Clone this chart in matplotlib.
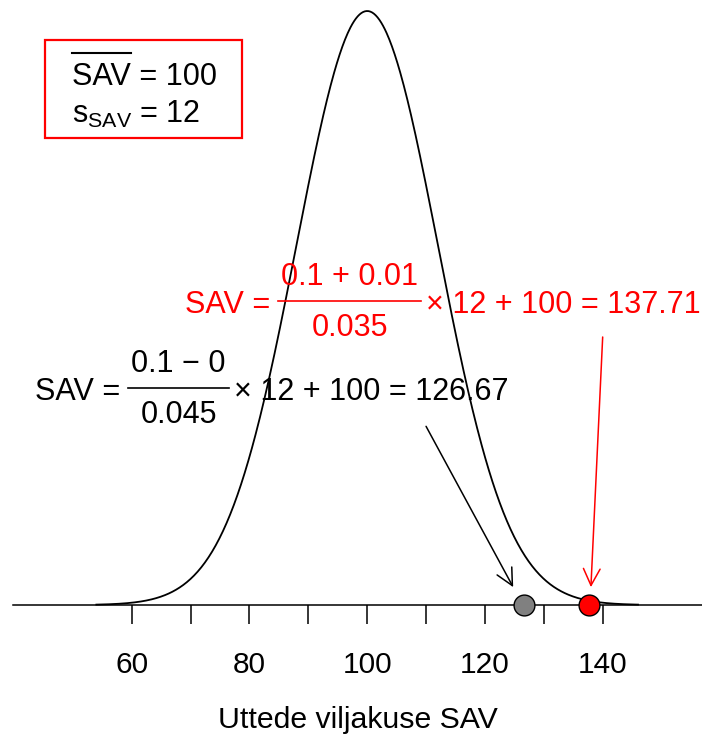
import matplotlib
matplotlib.use("Agg")
import matplotlib.pyplot as plt
from matplotlib.patches import Rectangle
from matplotlib.lines import Line2D
import numpy as np

# Normal density of SAV
sav_mean = 100
sav_sd = 12
curve_from, curve_to = 54, 146

# two conversions: numerator a (+/-) b over denominator
num_a = [0.1, 0.1]
num_b = [0.0, 0.01]
num_sign = ["\u2212", "+"]
denom = [0.045, 0.035]
point_colors = ["#808080", "red"]
text_colors = ["black", "red"]

# arrow tails and heads pointing down to each score
arrow_x0 = [110, 140]
arrow_y0 = [0.010, 0.015]
arrow_x1 = [124.8, 138]
arrow_y1 = [0.001, 0.001]

# formula anchor (left edge x, baseline y)
label_x = [43.6, 69.05]
label_y = [0.01147, 0.01634]

major_ticks = [60, 70, 80, 90, 100, 110, 120, 130, 140]
tick_labels = ["60", "", "80", "", "100", "", "120", "", "140"]

plt.rcParams["font.family"] = ["Liberation Sans", "DejaVu Sans"]
plt.rcParams["mathtext.fontset"] = "custom"
plt.rcParams["mathtext.rm"] = "Liberation Sans"
plt.rcParams["mathtext.it"] = "Liberation Sans"
plt.rcParams["mathtext.bf"] = "Liberation Sans:bold"

FS = 22
W, H = 702, 738

fig = plt.figure(figsize=(7.02, 7.38), dpi=100)
ax = fig.add_axes([0, 0, 1, 1])
ax.set_xlim(37.63, 156.87)
ax.set_ylim(-0.007444, 0.033862)
renderer = fig.canvas.get_renderer()

xs = np.linspace(curve_from, curve_to, 600)
dens = np.exp(-0.5 * ((xs - sav_mean) / sav_sd) ** 2) / (sav_sd * np.sqrt(2 * np.pi))
ax.plot(xs, dens, color="black", lw=1.3, zorder=3)

# axis drawn through zero
for side in ["top", "right", "left"]:
    ax.spines[side].set_visible(False)
ax.spines["bottom"].set_position(("data", 0))
ax.spines["bottom"].set_bounds(39.8, 156.87)
ax.spines["bottom"].set_linewidth(1.1)
ax.set_xticks(major_ticks)
ax.set_xticklabels(tick_labels)
ax.set_yticks([])
ax.tick_params(axis="x", direction="out", length=13.7, width=1.1, pad=19.5, labelsize=21.5)
ax.text(98.35, -0.0069, "Uttede viljakuse SAV", ha="center", va="baseline", fontsize=21.8)


def to_data(px, py):
    return ax.transData.inverted().transform((px, py))


def put(px, py, s, ha, color):
    x, y = to_data(px, py)
    return ax.text(x, y, s, ha=ha, va="baseline", color=color, fontsize=FS, zorder=4)


def width(t):
    return t.get_window_extent(renderer).width


def formula(x0, y0, left, num, den, right, color):
    px, py = ax.transData.transform((x0, y0))
    t = put(px, py, left, "left", color)
    bar_left = px + width(t) + 8
    tn = put(0, 0, num, "center", color)
    td = put(0, 0, den, "center", color)
    bar_w = max(width(tn), width(td)) + 6
    cx = bar_left + bar_w / 2
    bar_y = py + 12
    tn.set_position(to_data(cx, bar_y + 16))
    td.set_position(to_data(cx, bar_y - 35))
    (bx0, by), (bx1, _) = to_data(bar_left, bar_y), to_data(bar_left + bar_w, bar_y)
    ax.add_line(Line2D([bx0, bx1], [by, by], color=color, lw=1.2, zorder=4))
    put(bar_left + bar_w + 5, py, right, "left", color)


for i in range(2):
    score = (num_a[i] + num_b[i]) / denom[i] * sav_sd + sav_mean
    num = f"{num_a[i]:g} {num_sign[i]} {num_b[i]:g}"
    right = f"\u00d7 {sav_sd} + {sav_mean} = {score:.2f}"
    formula(label_x[i], label_y[i], "SAV =", num, f"{denom[i]:g}", right, text_colors[i])
    ax.annotate("", xy=(arrow_x1[i], arrow_y1[i]), xytext=(arrow_x0[i], arrow_y0[i]),
                arrowprops=dict(arrowstyle="->, head_length=0.6, head_width=0.3",
                                color=text_colors[i], lw=1.1, mutation_scale=20,
                                shrinkA=0, shrinkB=0), zorder=4)
    ax.plot([score], [0], "o", ms=15, mfc=point_colors[i], mec="black", mew=1, zorder=5)

# summary box in the top-left corner
fig.patches.append(Rectangle((45 / W, 1 - 137.5 / H), (241.5 - 45) / W, (137.5 - 39.5) / H,
                             transform=fig.transFigure, fill=False, edgecolor="red", lw=1.6))
fig.text(72 / W, 1 - 85 / H, f"SAV = {sav_mean}", fontsize=FS, ha="left", va="baseline")
tmp = fig.text(72 / W, 1 - 85 / H, "SAV", fontsize=FS, ha="left", va="baseline")
sav_w = width(tmp)
tmp.remove()
fig.add_artist(Line2D([72 / W, (72 + sav_w) / W], [1 - 53 / H, 1 - 53 / H],
                      transform=fig.transFigure, color="black", lw=1.5))
fig.text(72 / W, 1 - 123 / H, r"$\mathrm{s}_{\mathrm{SAV}}$" + f" = {sav_sd}", fontsize=FS,
         ha="left", va="baseline")

fig.savefig("out.png", dpi=100)
